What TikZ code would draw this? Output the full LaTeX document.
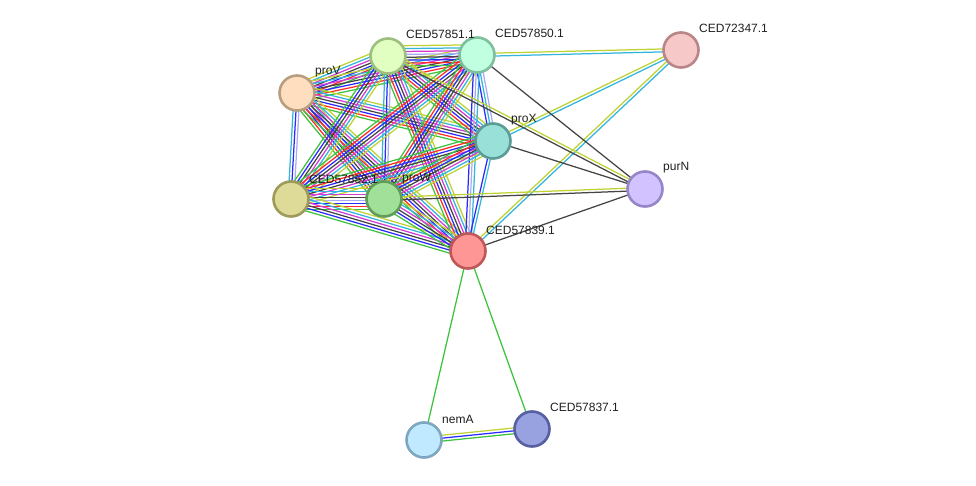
\documentclass[tikz,border=0pt]{standalone}
\usepackage{fontspec}
\setmainfont{Liberation Sans}
\usetikzlibrary{calc}
\pgfdeclarelayer{bg}
\pgfsetlayers{bg,main}
\definecolor{cg}{HTML}{3CC23C}
\definecolor{cr}{HTML}{FF2A2A}
\definecolor{cb}{HTML}{2A2AFF}
\definecolor{ck}{HTML}{444444}
\definecolor{cm}{HTML}{D23CD2}
\definecolor{cc}{HTML}{32B4DC}
\definecolor{cy}{HTML}{BED232}
\definecolor{cl}{HTML}{AAAAF5}
\newcommand{\medge}[3]{%
  \foreach \c [count=\i] in {#3} {\xdef\nn{\i}}%
  \foreach \c [count=\i] in {#3} {%
    \pgfmathsetmacro{\off}{(\i-(\nn+1)/2)*2.9}%
    \draw[edgeline, color=\c] ($(#1.center)!\off pt!90:(#2.center)$) -- ($(#2.center)!\off pt!-90:(#1.center)$);
  }%
}
\tikzset{
  prot/.style={circle, minimum size=35pt, inner sep=0pt, line width=2.6pt},
  lbl/.style={anchor=west, font=\fontsize{12}{14}\selectfont, text=black!88, inner sep=0pt},
  edgeline/.style={line width=1.25pt}
}
\begin{document}
\begin{tikzpicture}[x=1pt,y=-1pt]
\path[use as bounding box] (0,0) rectangle (976,486);
% nodes
\node[prot, fill={rgb,255:red,255;green,222;blue,192}, draw={rgb,255:red,184;green,158;blue,126}] (V) at (297,93) {};
\node[prot, fill={rgb,255:red,224;green,255;blue,192}, draw={rgb,255:red,158;green,192;blue,126}] (A51) at (388,56) {};
\node[prot, fill={rgb,255:red,192;green,255;blue,224}, draw={rgb,255:red,126;green,192;blue,158}] (A50) at (477,55) {};
\node[prot, fill={rgb,255:red,246;green,200;blue,200}, draw={rgb,255:red,184;green,134;blue,134}] (A72) at (681,50) {};
\node[prot, fill={rgb,255:red,152;green,224;blue,216}, draw={rgb,255:red,92;green,156;blue,150}] (X) at (493,141) {};
\node[prot, fill={rgb,255:red,210;green,194;blue,255}, draw={rgb,255:red,150;green,134;blue,200}] (N) at (645,189) {};
\node[prot, fill={rgb,255:red,222;green,218;blue,152}, draw={rgb,255:red,158;green,154;blue,90}] (A52) at (291,199) {};
\node[prot, fill={rgb,255:red,160;green,224;blue,152}, draw={rgb,255:red,96;green,156;blue,90}] (W) at (384,199) {};
\node[prot, fill={rgb,255:red,255;green,150;blue,150}, draw={rgb,255:red,190;green,88;blue,88}] (A39) at (468,251) {};
\node[prot, fill={rgb,255:red,192;green,232;blue,255}, draw={rgb,255:red,126;green,166;blue,192}] (E) at (424,440) {};
\node[prot, fill={rgb,255:red,152;green,162;blue,224}, draw={rgb,255:red,86;green,96;blue,160}] (A37) at (532,429) {};
% labels
\node[lbl] (lV) at (315,72) {proV};
\node[lbl] (l51) at (406,34) {CED57851.1};
\node[lbl] (l50) at (495,33) {CED57850.1};
\node[lbl] (l72) at (699,28) {CED72347.1};
\node[lbl] (lX) at (511,120) {proX};
\node[lbl] (lN) at (663,168) {purN};
\node[lbl] (l52) at (309,179) {CED57852.1};
\node[lbl] (lW) at (402,179) {proW};
\node[lbl] (l39) at (486,230) {CED57839.1};
\node[lbl] (lE) at (442,419) {nemA};
\node[lbl] (l37) at (550,407) {CED57837.1};
% edges
\begin{pgfonlayer}{bg}
\medge{V}{A51}{cg,cr,cb,ck,cm,cc,cy}
\medge{V}{A50}{cg,cr,cb,ck,cm,cc,cy}
\medge{V}{X}{cg,cr,cb,ck,cm,cc,cy}
\medge{V}{A52}{cc,cb,cl}
\medge{V}{W}{cg,cr,cb,ck,cm,cc,cy}
\medge{V}{A39}{cg,cr,cb,ck,cm,cc,cy}
\medge{A51}{A50}{cg,cr,cb,ck,cl,cm,cc,cy}
\medge{A51}{X}{cg,cr,cb,ck,cm,cc,cy}
\medge{A51}{A52}{cg,cb,ck,cm,cc,cy}
\medge{A51}{W}{cc,cb,cl}
\medge{A51}{A39}{cg,cr,cb,ck,cm,cc,cy}
\medge{A50}{X}{cb,cc,cl}
\medge{A50}{A52}{cg,cr,cb,ck,cm,cc,cy}
\medge{A50}{W}{cg,cr,cb,ck,cm,cc,cy}
\medge{A50}{A39}{cb,cl,cc}
\medge{X}{A52}{cg,cr,cb,ck,cm,cc,cy}
\medge{X}{W}{cg,cr,cb,ck,cm,cc,cy}
\medge{X}{A39}{cb,cc}
\medge{A52}{W}{cg,cr,cb,cl,ck,cm,cc,cy}
\medge{A52}{A39}{cg,cb,ck,cm,cc,cy}
\medge{W}{A39}{cg,cb,ck,cm,cc,cy}
\medge{A50}{A72}{cc,cy}
\medge{X}{A72}{cc,cy}
\medge{A39}{A72}{cc,cy}
\medge{A51}{N}{ck,cy}
\medge{A50}{N}{ck}
\medge{X}{N}{ck}
\medge{W}{N}{ck,cy}
\medge{A39}{N}{ck}
\medge{E}{A39}{cg}
\medge{A37}{A39}{cg}
\medge{E}{A37}{cg,cb,cy}
\end{pgfonlayer}
\end{tikzpicture}
\end{document}
